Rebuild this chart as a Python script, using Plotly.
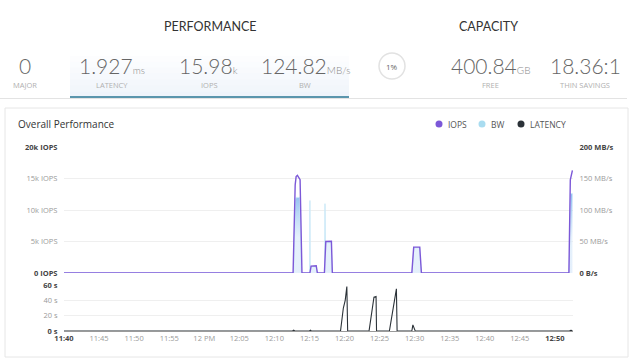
import plotly.graph_objects as go

W, H = 640, 360
def px(x): return x / W
def py(y): return 1 - y / H

DAY = "2024-05-14 "

# ---- data ----
iops_time = ["11:40:00", "12:12:40", "12:12:58", "12:13:06", "12:13:17", "12:13:30", "12:13:40", "12:13:56",
             "12:15:04", "12:15:14", "12:15:58", "12:16:08",
             "12:17:08", "12:17:20", "12:18:08", "12:18:16",
             "12:29:36", "12:29:52", "12:30:44", "12:30:58",
             "12:52:00", "12:52:12", "12:52:30"]
iops_val = [0, 0, 14000, 15300, 15500, 15200, 14800, 0,
            0, 1100, 1150, 0,
            0, 5000, 5050, 0,
            0, 4100, 4100, 0,
            0, 14800, 16300]

bw_time = ["11:40:00", "12:12:44", "12:12:58", "12:13:06", "12:13:38", "12:13:50",
           "12:15:01", "12:15:04", "12:15:07", "12:15:58", "12:16:06",
           "12:17:09", "12:17:13", "12:17:17", "12:18:06", "12:18:14",
           "12:29:38", "12:29:54", "12:30:42", "12:30:56",
           "12:52:02", "12:52:14", "12:52:30"]
bw_val = [0, 0, 115, 120, 120, 0,
          0, 115, 10, 10, 0,
          0, 110, 48, 48, 0,
          0, 40, 40, 0,
          0, 126, 126]

lat_time = ["11:40:00", "12:12:35", "12:12:45", "12:12:55", "12:15:00", "12:15:08", "12:15:16",
            "12:19:26", "12:19:50", "12:20:06", "12:20:20", "12:20:27",
            "12:23:30", "12:24:12", "12:24:30", "12:24:34",
            "12:26:24", "12:27:24", "12:27:30",
            "12:29:36", "12:29:45", "12:29:54", "12:30:05",
            "12:52:04", "12:52:16", "12:52:30"]
lat_val = [0, 0, 1.2, 0, 0, 1.0, 0,
           0, 30, 40, 58, 0,
           0, 44, 45, 0,
           0, 55, 0,
           0, 8, 3, 0,
           0, 1, 0.5]

tick_times = ["11:40", "11:45", "11:50", "11:55", "12:00", "12:05", "12:10", "12:15",
              "12:20", "12:25", "12:30", "12:35", "12:40", "12:45", "12:50"]
tick_text = ["11:40", "11:45", "11:50", "11:55", "12 PM", "12:05", "12:10", "12:15",
             "12:20", "12:25", "12:30", "12:35", "12:40", "12:45", "12:50"]

iops_ticks = [0, 5000, 10000, 15000, 20000]
iops_ticktext = ["0 IOPS", "5k IOPS", "10k IOPS", "15k IOPS", "20k IOPS"]
bw_ticks = [0, 50, 100, 150, 200]
bw_ticktext = ["0 B/s", "50 MB/s", "100 MB/s", "150 MB/s", "200 MB/s"]
lat_ticks = [0, 20, 40, 60]
lat_ticktext = ["0 s", "20 s", "40 s", "60 s"]

def style_ticks(labels):
    out = []
    for i, t in enumerate(labels):
        if i == 0 or i == len(labels) - 1:
            out.append("<b>" + t + "</b>")
        else:
            out.append('<span style="color:#9a9a9a">' + t + "</span>")
    return out

C_IOPS = "#7c58d8"
C_BW = "#a9dcf0"
C_LAT = "#2b3238"

fig = go.Figure()

fig.add_trace(go.Scatter(
    x=[DAY + t for t in bw_time], y=bw_val, yaxis="y", xaxis="x", mode="lines",
    line=dict(color="#cdeaf8", width=1), fill="tozeroy",
    fillgradient=dict(type="vertical",
                      colorscale=[[0, "rgba(214,231,250,0.65)"], [0.45, "rgba(218,235,250,0.7)"],
                                  [1, "rgba(130,184,238,0.9)"]],
                      start=0, stop=125),
    showlegend=False, hoverinfo="skip"))

fig.add_trace(go.Scatter(
    x=[DAY + t for t in iops_time], y=iops_val, yaxis="y2", xaxis="x", mode="lines",
    line=dict(color=C_IOPS, width=1.4), showlegend=False, hoverinfo="skip"))

fig.add_trace(go.Scatter(
    x=[DAY + t for t in lat_time], y=lat_val, yaxis="y3", xaxis="x", mode="lines",
    line=dict(color=C_LAT, width=1.1), showlegend=False, hoverinfo="skip"))

tickfont = dict(family="Open Sans", size=7.5, color="#444")

fig.update_layout(
    width=W, height=H, margin=dict(l=0, r=0, t=0, b=0, pad=0, autoexpand=False),
    paper_bgcolor="white", plot_bgcolor="rgba(0,0,0,0)",
    showlegend=False,
    xaxis=dict(domain=[px(64), px(573)], anchor="y3", type="date", automargin=False,
               range=[DAY + "11:40:00", DAY + "12:52:35"],
               tickvals=[DAY + t for t in tick_times], ticktext=style_ticks(tick_text),
               tickfont=tickfont, showgrid=False, zeroline=False,
               showline=True, linecolor="#9a9a9a", linewidth=1, ticks=""),
    yaxis=dict(domain=[py(273), py(147)], anchor="x", side="right", range=[0, 200], automargin=False,
               tickvals=bw_ticks, ticktext=style_ticks(bw_ticktext), tickfont=tickfont,
               showgrid=True, gridcolor="#efefef", zeroline=False, ticks="outside",
               ticklen=4, tickcolor="rgba(0,0,0,0)"),
    yaxis2=dict(overlaying="y", anchor="x", side="left", range=[0, 20000], automargin=False,
                tickvals=iops_ticks, ticktext=style_ticks(iops_ticktext), tickfont=tickfont,
                showgrid=False, zeroline=False, ticks="outside", ticklen=4,
                tickcolor="rgba(0,0,0,0)"),
    yaxis3=dict(domain=[py(331), py(285)], anchor="x", side="left", range=[0, 60], automargin=False,
                tickvals=lat_ticks, ticktext=style_ticks(lat_ticktext), tickfont=tickfont,
                showgrid=True, gridcolor="#efefef", zeroline=False, ticks="outside",
                ticklen=4, tickcolor="rgba(0,0,0,0)"),
)

shapes = []
# header card bottom border
shapes.append(dict(type="line", xref="paper", yref="paper", x0=px(0), x1=px(627), y0=py(98.5), y1=py(98.5),
                   line=dict(color="#e3e3e3", width=1.2), layer="below"))
# selected tab gradient
steps = 8
for i in range(steps):
    y0 = 50 + i * (47 / steps)
    y1 = 50 + (i + 1) * (47 / steps)
    a = 0.02 + 0.5 * (i / (steps - 1))
    shapes.append(dict(type="rect", xref="paper", yref="paper", x0=px(70), x1=px(349),
                       y0=py(y1), y1=py(y0), line=dict(width=0),
                       fillcolor="rgba(225,234,247,%.3f)" % a, layer="below"))
shapes.append(dict(type="line", xref="paper", yref="paper", x0=px(70), x1=px(349), y0=py(97), y1=py(97),
                   line=dict(color="#5b96ad", width=2)))
# capacity circle
shapes.append(dict(type="circle", xref="paper", yref="paper", x0=px(379), x1=px(405), y0=py(79), y1=py(53),
                   line=dict(color="#e2e2e2", width=1.5)))
# chart card
shapes.append(dict(type="rect", xref="paper", yref="paper", x0=px(5), x1=px(628), y0=py(357), y1=py(108),
                   line=dict(color="#e6e6e6", width=1), fillcolor="rgba(0,0,0,0)", layer="below"))
# legend dots
for cx, col in [(439, C_IOPS), (482, C_BW), (521, C_LAT)]:
    shapes.append(dict(type="circle", xref="paper", yref="paper", x0=px(cx - 3.5), x1=px(cx + 3.5),
                       y0=py(124 + 3.5), y1=py(124 - 3.5), line=dict(width=0), fillcolor=col))
fig.update_layout(shapes=shapes)

HF = "Lato"
ann = []
def A(x, y, text, size, color, anchor="center", family=HF, weight=None):
    f = dict(family=family, size=size, color=color)
    if weight:
        f["weight"] = weight
    ann.append(dict(xref="paper", yref="paper", x=px(x), y=py(y), text=text, showarrow=False,
                    xanchor=anchor, yanchor="middle", font=f))

A(210, 27, "PERFORMANCE", 12.5, "#333")
A(488, 27, "CAPACITY", 12.5, "#333")
unit = '<span style="font-size:10px;fill:#888">%s</span>'
A(25, 65, "0", 21, "#666", weight=300)
A(112, 65, "1.927" + unit % "ms", 21, "#666", weight=300)
A(208, 65, "15.98" + unit % "k", 21, "#666", weight=300)
A(305, 65, "124.82" + unit % "MB/s", 21, "#666", weight=300)
A(490, 65, "400.84" + unit % "GB", 21, "#666", weight=300)
A(585, 65, "18.36:1", 21, "#666", weight=300)
for x, t in [(25, "MAJOR"), (112, "LATENCY"), (209, "IOPS"), (305, "BW"), (490, "FREE"), (585, "THIN SAVINGS")]:
    A(x, 85, t, 7.5, "#b0b0b0", family="Open Sans")
A(392, 66, "1%", 8, "#666", family="Open Sans")
A(16, 124, "Overall Performance", 10, "#333", anchor="left", family="Open Sans")
A(446, 124, "IOPS", 8.5, "#555", anchor="left", family="Open Sans")
A(489, 124, "BW", 8.5, "#555", anchor="left", family="Open Sans")
A(528, 124, "LATENCY", 8.5, "#555", anchor="left", family="Open Sans")
fig.update_layout(annotations=ann)

fig.write_html("out.html", config={"displayModeBar": False},
               post_script="document.body.style.margin='0';document.body.style.overflow='hidden';")
